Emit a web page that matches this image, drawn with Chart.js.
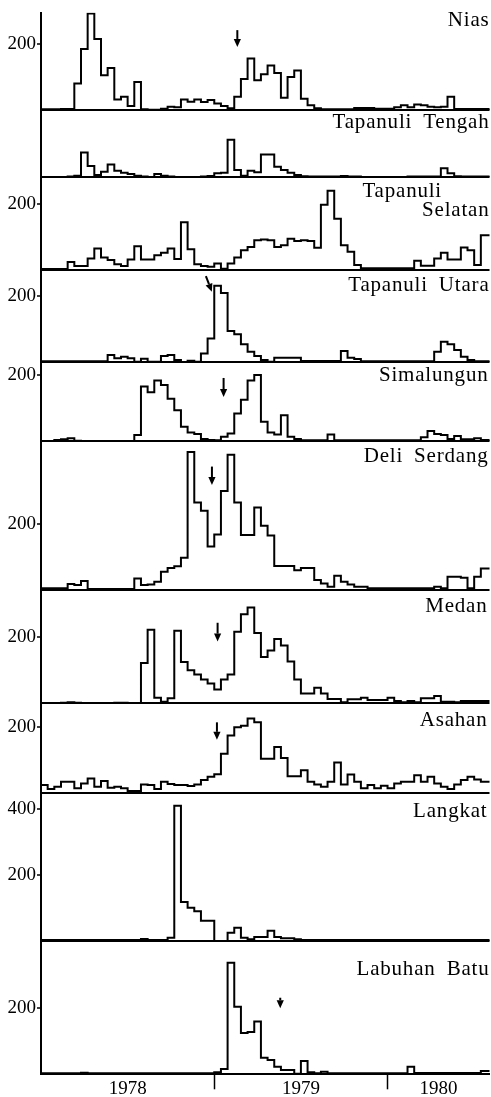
<!DOCTYPE html>
<html><head><meta charset="utf-8">
<script src="https://cdn.jsdelivr.net/npm/chart.js@4.4.1/dist/chart.umd.min.js"></script>
<style>html,body{margin:0;padding:0;background:#fff}#wrap{width:491px;height:1097px;position:relative}</style>
</head><body><div id="wrap"><canvas id="c"></canvas></div>
<script>
// ---------- DATA (biweekly periods from start of 1978) ----------
const panelNames = ['Nias','Tapanuli Tengah','Tapanuli\nSelatan','Tapanuli Utara','Simalungun','Deli Serdang','Medan','Asahan','Langkat','Labuhan Batu'];
const nias = [2,2,2,3,3,80,185,292,215,105,127,32,40,12,85,2,1,1,4,10,8,32,25,32,24,30,20,12,5,40,94,156,90,108,135,112,37,100,120,34,14,5,2,2,2,2,2,6,6,6,4,4,4,8,14,8,17,14,10,8,10,40,3,3,3,3,3,3];
const tapanuliTengah = [1,1,1,1,2,5,75,34,7,17,39,20,14,10,5,2,1,10,5,2,1,1,1,1,2,4,12,14,114,22,5,20,15,69,69,32,22,14,7,3,2,2,2,2,2,4,2,2,1,1,1,1,1,1,1,2,2,2,2,2,27,12,3,2,2,2,2,2];
const tapanuliSelatan = [3,3,3,3,24,12,12,35,65,38,30,17,12,32,72,32,32,45,52,65,33,145,63,17,12,10,20,4,20,38,60,70,90,92,90,70,75,95,88,90,88,67,198,240,155,75,55,15,5,5,5,5,5,5,5,5,28,13,13,35,52,32,32,68,60,15,105,105];
const tapanuliUtara = [3,3,3,3,3,3,3,3,3,3,22,12,17,12,2,11,2,2,19,22,7,0,5,2,27,72,232,210,95,85,55,32,19,7,2,14,14,14,14,4,4,4,4,4,4,34,14,10,3,3,3,3,3,3,3,3,3,3,3,32,62,55,37,17,7,3,3,3];
const simalungun = [0,0,3,5,8,1,0,0,0,0,0,0,0,0,18,165,148,183,170,128,93,43,26,21,6,3,2,13,23,83,125,183,200,58,26,20,78,13,6,2,2,2,2,20,2,2,2,2,2,2,2,2,2,2,2,2,2,11,30,21,18,6,15,5,5,8,3,3];
const deliSerdang = [5,5,5,5,18,15,27,3,3,3,3,3,3,3,35,15,17,25,55,67,72,98,418,265,240,132,168,300,410,265,167,167,250,195,165,73,73,73,60,67,67,30,20,10,43,25,17,10,10,5,5,5,5,5,5,5,5,5,5,10,5,40,40,37,5,40,65,65];
const medan = [0,0,0,2,3,2,0,0,0,0,0,2,2,0,0,122,223,17,5,15,220,125,100,87,72,60,42,72,87,217,270,290,213,140,160,195,175,127,72,30,30,47,30,13,13,3,12,12,17,10,10,10,17,7,3,7,3,15,15,22,5,5,3,7,7,7,7,7];
const asahan = [25,13,20,35,35,15,30,45,20,37,17,20,15,7,7,27,25,13,35,28,25,25,22,27,40,50,58,120,175,200,205,227,215,105,105,140,107,52,52,70,35,27,20,35,93,27,57,35,15,25,15,23,15,30,35,35,55,35,50,30,20,13,27,40,50,42,35,35];
const langkat = [3,3,3,3,3,3,3,3,3,3,3,3,3,3,3,6,3,3,3,10,410,118,101,90,61,61,0,0,25,40,10,5,12,12,31,12,8,8,5,3,3,3,3,3,3,3,3,3,3,3,3,3,3,3,3,3,3,3,3,3,3,3,3,3,3,3,3,3];
const labuhanBatu = [3,3,3,3,3,3,5,3,3,3,3,3,3,3,3,3,3,3,3,3,3,3,3,3,3,3,6,16,338,205,125,128,160,50,43,23,13,13,2,40,6,3,8,3,3,3,3,3,3,3,3,3,3,3,3,23,4,4,4,4,4,4,4,4,4,4,10,10];
const series = [nias,tapanuliTengah,tapanuliSelatan,tapanuliUtara,simalungun,deliSerdang,medan,asahan,langkat,labuhanBatu];

const yTickValues = [[200],[],[200],[200],[200],[200],[200],[200],[200,400],[200]];
const yearLabels = ['1978','1979','1980'];
const yearStarts = [0, 26, 52];        // period index where each year starts
const periodsShown = 67.3;
// arrows: panel index, from (x1,y1) to (x2,y2) in data units
const arrows = [
  {p:0, x1:29.46, y1:242, x2:29.46, y2:191},
  {p:3, x1:24.74, y1:261, x2:25.64, y2:214},
  {p:4, x1:27.4, y1:191, x2:27.4, y2:133},
  {p:5, x1:25.65, y1:374, x2:25.65, y2:318},
  {p:6, x1:26.5, y1:244, x2:26.5, y2:187},
  {p:7, x1:26.4, y1:215, x2:26.4, y2:162},
  {p:9, x1:35.9, y1:232, x2:35.9, y2:200}
];

// ---------- LAYOUT ----------
const panelMax = [294.8,203.9,280.9,279.7,238.5,451.5,343.3,272.7,447.6,403.9];
const nameBaseline = [[13],[18],[19.4,38.4],[20.7],[18.7],[21.3],[21.7],[22.4],[23.4],[34]];
const nameInset = [[0],[0],[47.5,0],[0],[1],[1],[2],[2],[2],[0]];
const FONT = '"Liberation Serif", "DejaVu Serif", serif';

const scales = {
  x: {
    type:'linear', position:'bottom', min:0, max:periodsShown,
    afterBuildTicks: s => {
      const t = [];
      yearLabels.forEach((lab,i) => {
        const a = yearStarts[i], b = Math.min(i+1 < yearStarts.length ? yearStarts[i+1] : a+26, periodsShown);
        t.push({value:(a+b)/2, name:lab});
        if (i > 0) t.push({value:a, boundary:true, name:''});
      });
      t.sort((p,q)=>p.value-q.value);
      s.ticks = t;
    },
    afterFit: s => { s.height = 22.7; },
    grid: { drawOnChartArea:false, tickLength:15, tickWidth:1.5,
      tickColor: c => (c.tick && c.tick.boundary) ? '#000' : 'rgba(0,0,0,0)' },
    border: { display:true, color:'#000', width:2 },
    ticks: { autoSkip:false, maxRotation:0, minRotation:0, padding:-12, color:'#000',
      font:{family:FONT, size:19},
      callback: (v,i,t) => t[i].name }
  }
};
series.forEach((vals,i) => {
  scales['y'+i] = {
    type:'linear', position:'left', stack:'panels', stackWeight:panelMax[i], weight:20-i,
    min:0, max:panelMax[i],
    afterBuildTicks: s => { s.ticks = [0].concat(yTickValues[i]).map(v => ({value:v})); },
    afterFit: s => { s.width = 41; },
    grid: { drawOnChartArea:true, lineWidth:2, tickWidth:1.5, tickLength:4,
      color: c => (c.tick && c.tick.value === 0) ? '#000' : 'rgba(0,0,0,0)',
      tickColor: c => (c.tick && c.tick.value === 0) ? 'rgba(0,0,0,0)' : '#000' },
    border: { display:true, color:'#000', width:2 },
    ticks: { padding:1, color:'#000', font:{family:FONT, size:19},
      callback: v => v === 0 ? '' : String(v) }
  };
});

const datasets = series.map((vals,i) => ({
  data: vals.map((v,k) => ({x:k, y:v})).concat([{x:vals.length, y:vals[vals.length-1]}]),
  xAxisID:'x', yAxisID:'y'+i, stepped:'before',
  borderColor:'#000', borderWidth:2, pointRadius:0, fill:false,
  borderJoinStyle:'miter', borderCapStyle:'butt', tension:0
}));

const annot = {
  id:'annot',
  afterDatasetsDraw(chart) {
    const ctx = chart.ctx, xs = chart.scales.x, right = chart.chartArea.right;
    ctx.save();
    ctx.fillStyle = '#000';
    ctx.font = '21px ' + FONT;
    ctx.textAlign = 'right';
    ctx.textBaseline = 'alphabetic';
    try { ctx.letterSpacing = '0.8px'; ctx.wordSpacing = '5px'; } catch(e) {}
    panelNames.forEach((name,i) => {
      const ys = chart.scales['y'+i];
      name.split('\n').forEach((ln,j) => {
        ctx.fillText(ln, right - nameInset[i][j], ys.top + nameBaseline[i][j]);
      });
    });
    try { ctx.letterSpacing = '0px'; ctx.wordSpacing = '0px'; } catch(e) {}
    arrows.forEach(a => {
      const ys = chart.scales['y'+a.p];
      const x1 = xs.getPixelForValue(a.x1), y1 = ys.getPixelForValue(a.y1);
      const x2 = xs.getPixelForValue(a.x2), y2 = ys.getPixelForValue(a.y2);
      const ang = Math.atan2(y2-y1, x2-x1), hl = 8, hw = 3.6;
      const bx = x2 - hl*Math.cos(ang), by = y2 - hl*Math.sin(ang);
      ctx.strokeStyle = '#000'; ctx.lineWidth = 2;
      ctx.beginPath(); ctx.moveTo(x1,y1); ctx.lineTo(bx,by); ctx.stroke();
      ctx.beginPath();
      ctx.moveTo(x2,y2);
      ctx.lineTo(bx + hw*Math.sin(ang), by - hw*Math.cos(ang));
      ctx.lineTo(bx - hw*Math.sin(ang), by + hw*Math.cos(ang));
      ctx.closePath(); ctx.fill();
    });
    ctx.restore();
  }
};

new Chart(document.getElementById('c'), {
  type:'line',
  data:{ datasets },
  options:{
    responsive:true, maintainAspectRatio:false, animation:false,
    layout:{ padding:{ top:12.7, right:1.5, bottom:0, left:0 } },
    plugins:{ legend:{display:false}, tooltip:{enabled:false} },
    scales
  },
  plugins:[annot]
});
</script>
</body></html>
